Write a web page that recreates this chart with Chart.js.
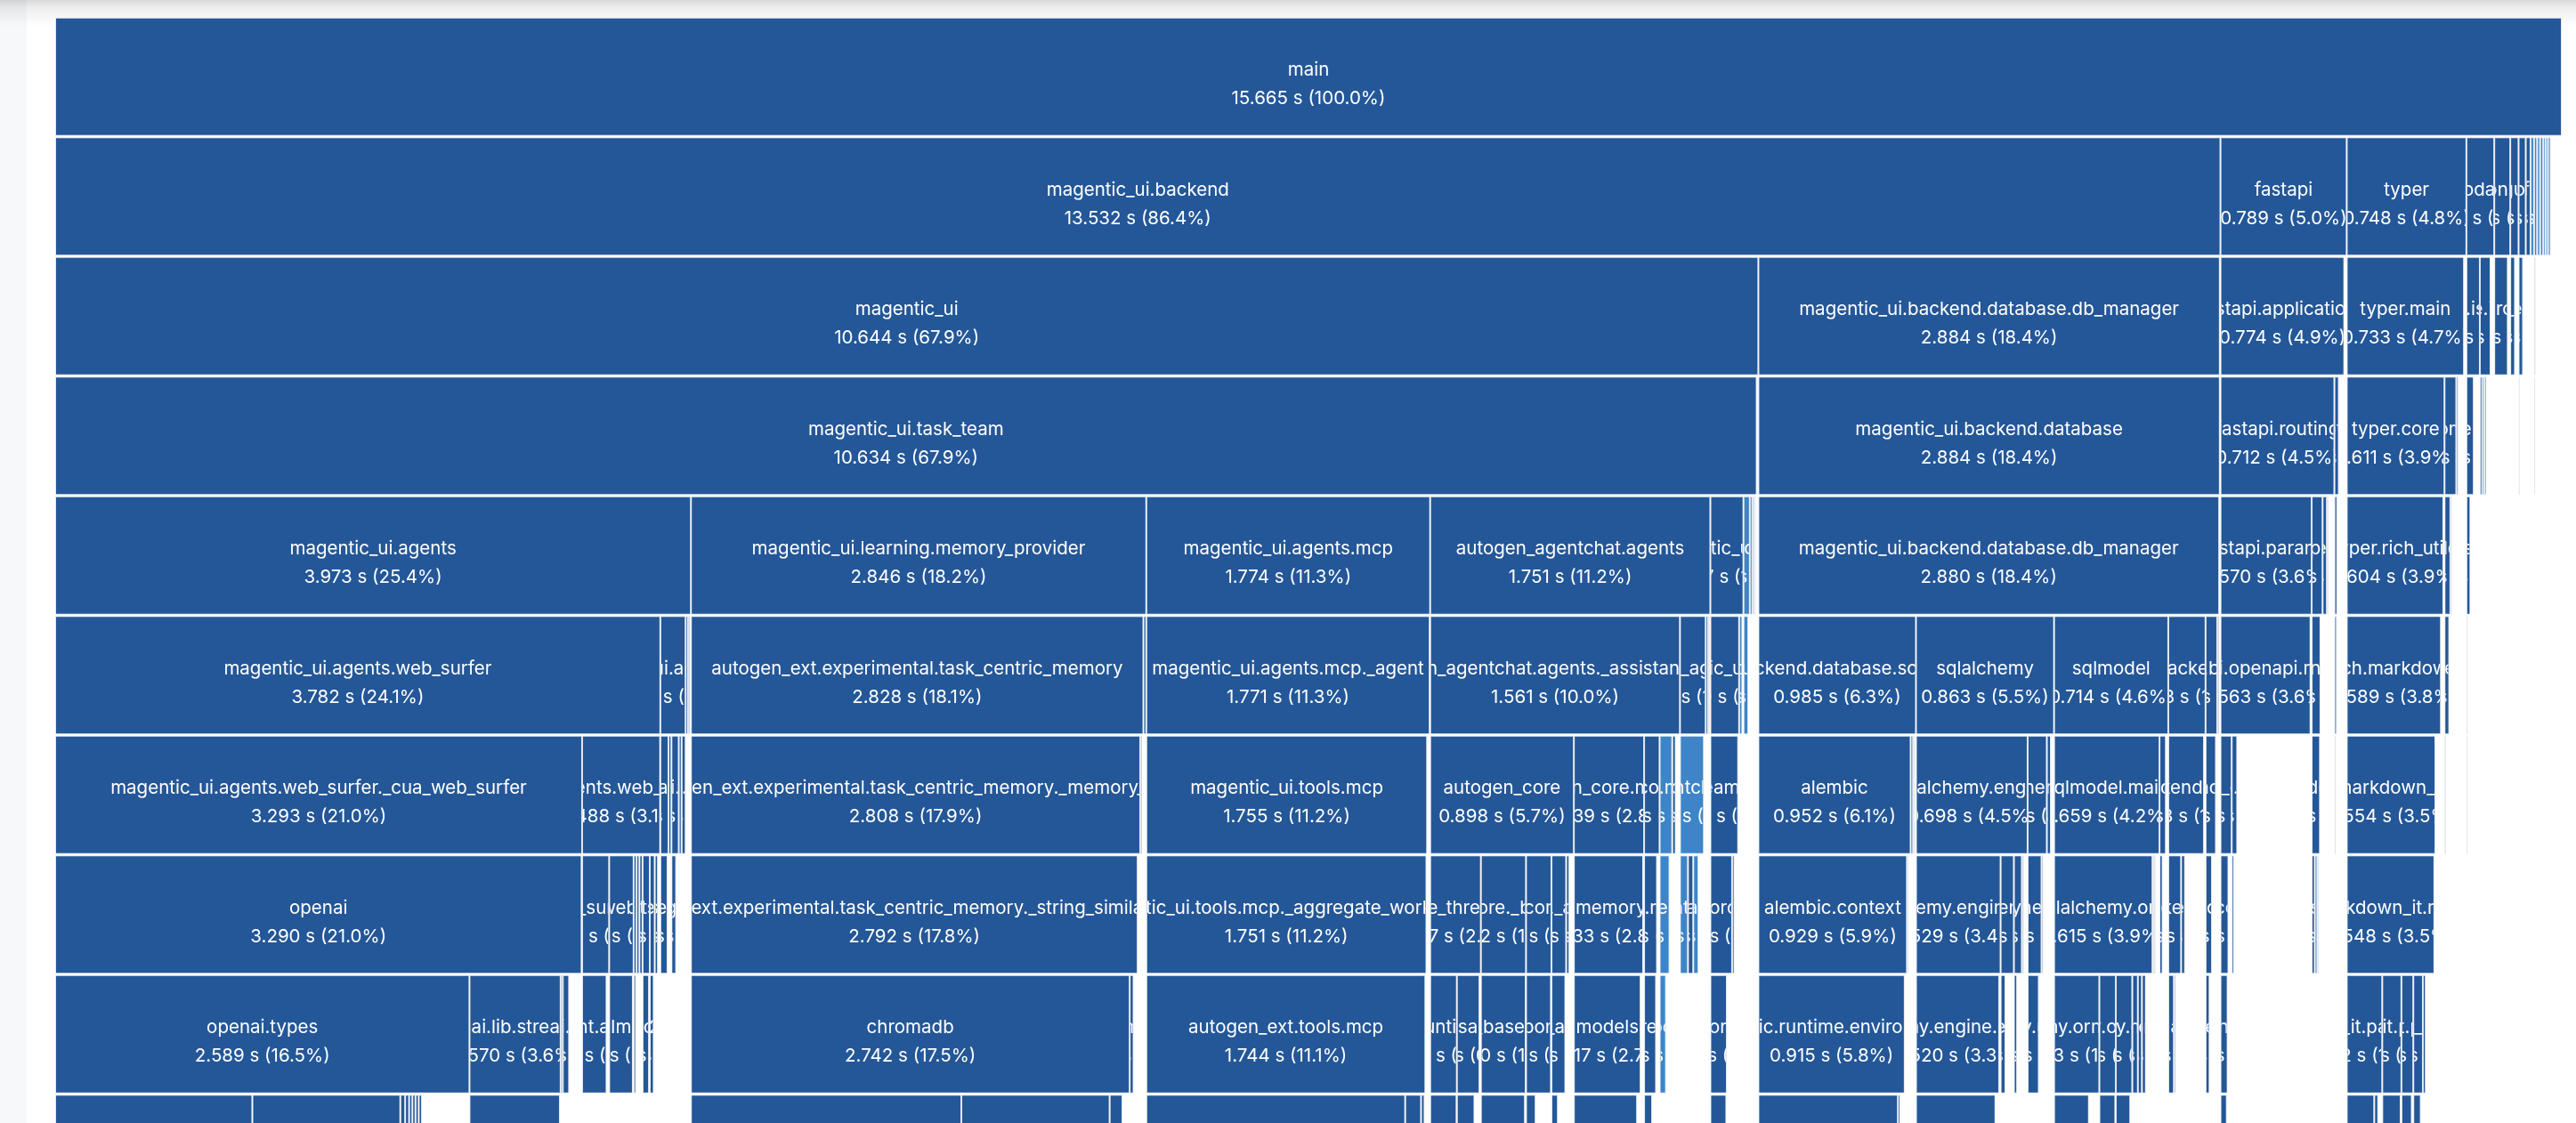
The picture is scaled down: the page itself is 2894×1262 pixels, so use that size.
<!DOCTYPE html>
<html><head><meta charset="utf-8">
<script src="https://cdn.jsdelivr.net/npm/chart.js@4.4.1/dist/chart.umd.min.js"></script>
<style>
html,body{margin:0;padding:0;width:2894px;height:1262px;overflow:hidden;background:#ffffff;}
#side{position:absolute;left:0;top:0;width:30px;height:1262px;background:#f7f8fa;}
#band{position:absolute;left:0;top:0;width:2894px;height:30px;background:linear-gradient(to bottom, rgba(0,0,0,0.15) 0px, rgba(0,0,0,0.065) 9px, rgba(0,0,0,0.035) 18px, rgba(0,0,0,0) 30px);}
#wrap{position:absolute;left:62px;top:19px;width:2816px;height:1345px;z-index:2;}
</style></head><body>
<div id="side"></div><div id="band"></div>
<div id="wrap"><canvas id="c" width="2816" height="1345"></canvas></div>
<script>
// ---------- data: one set of arrays per depth of the import tree ----------
const depth0Names = ['main'];
const depth0Times = [15.665];
const depth0Parents = [-1];

const depth1Names = ['magentic_ui.backend','fastapi','typer','isodate','jsonref','loguru','tiktoken','aiofiles','yaml','dotenv','json','uuid','socket','ssl','email'];
const depth1Times = [13.532,0.789,0.748,0.174,0.100,0.052,0.045,0.030,0.022,0.019,0.019,0.019,0.015,0.015,0.017];
const depth1Parents = [0,0,0,0,0,0,0,0,0,0,0,0,0,0,0];

const depth2Names = ['magentic_ui','magentic_ui.backend.database.db_manager','fastapi.applications','typer.main','isodate.isodates','isodate.isotime','jsonref.proxytypes','loguru._logger','tiktoken.core','dotenv.main'];
const depth2Times = [10.644,2.884,0.774,0.733,0.084,0.067,0.085,0.030,0.028,0.010];
const depth2Parents = [0,0,1,2,3,3,4,5,6,9];

const depth3Names = ['magentic_ui.task_team','magentic_ui.backend.database','fastapi.routing','fastapi.exception_handlers','typer.core','typer.completion','typer.params','isodate.isostrf','isodate.isotzinfo','isodate.tzinfo','isodate.duration','tiktoken.registry','dotenv.parser'];
const depth3Times = [10.634,2.884,0.712,0.028,0.611,0.074,0.013,0.046,0.015,0.013,0.013,0.008,0.006];
const depth3Parents = [0,1,2,2,3,3,3,4,5,5,5,8,9];

const depth4Names = ['magentic_ui.agents','magentic_ui.learning.memory_provider','magentic_ui.agents.mcp','autogen_agentchat.agents','magentic_ui.tools','magentic_ui.utils','magentic_ui.types','magentic_ui.magentic_one_helper','magentic_ui.approval_guard','magentic_ui.backend.database.db_manager','fastapi.params','fastapi.dependencies','fastapi.encoders','fastapi.datastructures','fastapi.exceptions','typer.rich_utils','typer._completion_shared','typer._types','isodate.isostrf.fmt'];
const depth4Times = [3.973,2.846,1.774,1.751,0.207,0.040,0.015,0.012,0.010,2.880,0.570,0.068,0.027,0.010,0.018,0.604,0.037,0.010,0.025];
const depth4Parents = [0,0,0,0,0,0,0,0,0,1,2,2,2,2,3,4,5,5,7];

const depth5Names = ['magentic_ui.agents.web_surfer','magentic_ui.agents._utils','magentic_ui.agents.users','magentic_ui.agents.file_surfer','autogen_ext.experimental.task_centric_memory','autogen_ext.experimental','magentic_ui.agents.mcp._agent','autogen_agentchat.agents._assistant_agent','autogen_agentchat','autogen_agentchat.state','autogen_agentchat.base','magentic_ui.teams','magentic_ui.tools.url_status','magentic_ui.utils.json','magentic_ui.backend.database.schema_manager','sqlalchemy','sqlmodel','magentic_ui.backend.datamodel','magentic_ui.backend.utils','magentic_ui.backend.database._util','fastapi.openapi.models','fastapi.dependencies.utils','fastapi.exceptions.http','rich.markdown','typer._completion_classes','isodate.isostrf.re'];
const depth5Times = [3.782,0.158,0.015,0.012,2.828,0.018,1.771,1.561,0.161,0.015,0.010,0.180,0.020,0.030,0.985,0.863,0.714,0.233,0.073,0.012,0.563,0.055,0.015,0.589,0.030,0.009];
const depth5Parents = [0,0,0,0,1,1,2,3,3,3,3,4,4,5,9,9,9,9,9,9,10,11,14,15,16,18];

const depth6Names = ['magentic_ui.agents.web_surfer._cua_web_surfer','magentic_ui.agents.web_surfer._prompts','magentic_ui.agents._coder','magentic_ui.agents._guard','magentic_ui.agents._file','magentic_ui.agents._orch','magentic_ui.agents._pdf','autogen_ext.experimental.task_centric_memory._memory_bank','autogen_ext.experimental.task_centric_memory.utils','magentic_ui.tools.mcp','autogen_core','autogen_core.memory','autogen_core.models','autogen_core.model_context','autogen_core.tools','autogen_agentchat.messages','magentic_ui.teams.orchestrator','alembic','magentic_ui.backend.database.migrations','magentic_ui.backend.database.config','sqlalchemy.engine','sqlalchemy.sql','sqlalchemy.types','sqlmodel.main','sqlmodel.sql','magentic_ui.backend.datamodel.types','magentic_ui.backend.utils.utils','fastapi._compat','fastapi.logger','fastapi.dependencies.models','fastapi.exceptions.base','markdown_it','typer._completion_classes.sh','isodate.isostrf.pat'];
const depth6Times = [3.293,0.488,0.051,0.018,0.046,0.018,0.025,2.808,0.012,1.755,0.898,0.439,0.097,0.079,0.022,0.150,0.174,0.952,0.015,0.010,0.698,0.120,0.025,0.659,0.040,0.223,0.065,0.070,0.035,0.052,0.011,0.554,0.011,0.008];
const depth6Parents = [0,0,1,1,1,1,1,4,4,6,7,7,7,7,7,8,11,14,14,14,15,15,15,16,16,17,18,20,20,21,22,23,24,25];

const depth7Names = ['openai','magentic_ui.agents.web_surfer.playwright_controller','magentic_ui.agents.web_surfer._set_of_mark','magentic_ui.agents.web_surfer._events','magentic_ui.agents.web_surfer._utils','magentic_ui.agents.web_surfer.fara','magentic_ui.agents.web_surfer._tool','magentic_ui.agents.web_surfer._prompts.cua','magentic_ui.agents.web_surfer._types','magentic_ui.agents._coder.exec','magentic_ui.agents._file.conv','autogen_ext.experimental.task_centric_memory._string_similarity_map','magentic_ui.tools.mcp._aggregate_workbench','autogen_core._single_threaded_agent_runtime','autogen_core._base_agent','autogen_core._component_config','autogen_core._agent_runtime','autogen_core.logging','autogen_core.memory._list_memory','autogen_core.models._types','autogen_core.model_context._buffered','autogen_agentchat.messages._types','autogen_agentchat.messages._utils','autogen_agentchat.messages._base','magentic_ui.teams.orchestrator._prompts','magentic_ui.teams.orchestrator._utils','alembic.context','alembic.op','sqlalchemy.engine.base','sqlalchemy.engine.events','sqlalchemy.engine.url','sqlalchemy.engine.row','sqlalchemy.util','sqlalchemy.sql.expression','sqlalchemy.orm','sqlmodel._compat','sqlmodel.default','sqlmodel.sql.sqltypes','magentic_ui.backend.datamodel.db','magentic_ui.backend.datamodel.eval','magentic_ui.backend.utils.files','fastapi._compat.v2','fastapi.logger.handlers','fastapi.security','fastapi.background','fastapi.requests','markdown_it.main'];
const depth7Times = [3.290,0.169,0.153,0.018,0.018,0.020,0.045,0.031,0.020,0.045,0.030,2.792,1.751,0.317,0.282,0.159,0.092,0.020,0.433,0.081,0.062,0.050,0.033,0.033,0.136,0.015,0.929,0.010,0.529,0.083,0.050,0.012,0.087,0.012,0.615,0.010,0.010,0.020,0.080,0.025,0.040,0.050,0.015,0.020,0.015,0.010,0.548];
const depth7Parents = [0,1,1,1,1,1,1,1,1,2,4,7,9,10,10,10,10,10,11,12,13,15,15,15,16,16,17,17,20,20,20,20,21,21,23,23,23,24,25,25,26,27,28,29,29,29,31];

const depth8Names = ['openai.types','openai.lib.streaming','openai.resources','openai._client','playwright.async_api','PIL.Image','tldextract','pydantic.json_schema','html2text','chromadb','numpy','autogen_ext.tools.mcp','autogen_core._runtime_impl_helpers','autogen_core._message_handler_context','autogen_core._base_agent_helpers','autogen_core._component_config_schema','autogen_core._agent_metadata','autogen_core.models._model_client','autogen_core.tools._base','autogen_core.model_context._chat','magentic_ui.teams.orchestrator._sentinel','alembic.runtime.environment','sqlalchemy.engine.interfaces','sqlalchemy.engine.create','sqlalchemy.engine.reflection','sqlalchemy.util.compat','sqlalchemy.orm.decl_api','sqlalchemy.orm.session','sqlalchemy.orm.query','sqlalchemy.orm.relationships','sqlalchemy.orm.mapper','sqlalchemy.orm.strategies','magentic_ui.datamodel.task','magentic_ui.datamodel.team','aiofiles.os','pydantic.v1','markdown_it.parser_block','markdown_it.parser_core','markdown_it.parser_inline','markdown_it.renderer','markdown_it.utils'];
const depth8Times = [2.589,0.570,0.013,0.040,0.153,0.148,0.015,0.040,0.025,2.742,0.025,1.744,0.167,0.141,0.280,0.156,0.087,0.417,0.075,0.040,0.103,0.915,0.520,0.030,0.020,0.070,0.283,0.103,0.103,0.035,0.025,0.025,0.035,0.012,0.025,0.045,0.222,0.120,0.074,0.060,0.018];
const depth8Parents = [0,0,0,0,1,2,3,6,7,11,11,12,13,13,14,15,16,18,19,20,24,26,28,29,30,32,34,34,34,34,34,34,38,38,40,41,46,46,46,46,46];

const depth9Names = ['openai.types.beta','openai.types.chat','openai.types.audio','openai.types.shared','openai.types.file_object','openai.types.model','openai.types.batch','openai.types.image','openai.lib.streaming.chat','chromadb.api','chromadb.config','chromadb.errors','mcp','autogen_ext.tools.mcp._config','autogen_ext.tools.mcp._session','autogen_core._queue','autogen_core._intervention','autogen_core._closure_agent','autogen_core._serialization','autogen_core._subscription','autogen_core.models._model_info','autogen_core.tools._function_tool','magentic_ui.teams.orchestrator._plan','alembic.runtime.migration','alembic.runtime.plugins','sqlalchemy.engine.default','sqlalchemy.orm.decl_base','sqlalchemy.orm.state','sqlalchemy.orm.context','pydantic.v1.fields','markdown_it.rules_block','markdown_it.ruler','markdown_it.rules_core','markdown_it.rules_inline','markdown_it.common'];
const depth9Times = [1.232,0.925,0.030,0.025,0.020,0.020,0.020,0.020,0.565,1.690,0.927,0.080,1.618,0.099,0.022,0.165,0.110,0.275,0.060,0.040,0.395,0.050,0.100,0.872,0.015,0.497,0.218,0.100,0.090,0.040,0.172,0.025,0.115,0.065,0.047];
const depth9Parents = [0,0,0,0,0,0,0,0,1,9,9,9,11,11,11,12,13,14,15,16,17,18,20,21,21,22,26,27,28,35,36,36,37,38,39];

// modules drawn in the lighter shade
const lightModules = ['yaml','dotenv','json','uuid','socket','ssl','email','dotenv.main','dotenv.parser','magentic_ui.utils','magentic_ui.tools.url_status','magentic_ui.utils.json','autogen_core.model_context','autogen_agentchat.messages','autogen_core.model_context._buffered','autogen_agentchat.messages._types','autogen_agentchat.messages._base','autogen_core.model_context._chat'];

// ---------- build icicle layout from the tree ----------
const allNames = [depth0Names,depth1Names,depth2Names,depth3Names,depth4Names,depth5Names,depth6Names,depth7Names,depth8Names,depth9Names];
const allTimes = [depth0Times,depth1Times,depth2Times,depth3Times,depth4Times,depth5Times,depth6Times,depth7Times,depth8Times,depth9Times];
const allParents = [depth0Parents,depth1Parents,depth2Parents,depth3Parents,depth4Parents,depth5Parents,depth6Parents,depth7Parents,depth8Parents,depth9Parents];
const rootTime = depth0Times[0];

const starts = [];
const points = [];
for (let d = 0; d < allNames.length; d++) {
  starts[d] = [];
  const cursor = {};
  for (let i = 0; i < allNames[d].length; i++) {
    const t = allTimes[d][i];
    let s;
    if (d === 0) { s = (cursor[-1] || 0); cursor[-1] = s + t; }
    else {
      const p = allParents[d][i];
      const c = cursor[p] || 0;
      s = starts[d-1][p] + c;
      cursor[p] = c + t;
    }
    starts[d][i] = s;
    points.push({x: [s, s + t], y: d, name: allNames[d][i], time: t});
  }
}

const DARK = '#245798';
const LIGHT = '#3d85c8';
const lightSet = new Set(lightModules);

const labelPlugin = {
  id: 'iciclelabels',
  afterDatasetsDraw(chart) {
    const ctx = chart.ctx;
    const meta = chart.getDatasetMeta(0);
    meta.data.forEach((el, i) => {
      const raw = points[i];
      const p = el.getProps(['x','y','base','height'], true);
      const left = Math.min(p.x, p.base) + 1;
      const right = Math.max(p.x, p.base) - 1;
      if (right - left < 1.5) return;
      ctx.save();
      ctx.beginPath();
      ctx.rect(left, p.y - p.height / 2, right - left, p.height);
      ctx.clip();
      ctx.fillStyle = '#ffffff';
      ctx.font = '20.5px Inter, "Noto Sans", sans-serif';
      ctx.textAlign = 'center';
      ctx.textBaseline = 'middle';
      const cx = (left + right) / 2;
      ctx.fillText(raw.name, cx, p.y - 7);
      ctx.fillText(raw.time.toFixed(3) + ' s (' + (raw.time / rootTime * 100).toFixed(1) + '%)', cx, p.y + 25);
      ctx.restore();
    });
  }
};

new Chart(document.getElementById('c'), {
  type: 'bar',
  data: {
    datasets: [{
      data: points,
      backgroundColor: c => (c.raw && lightSet.has(c.raw.name)) ? LIGHT : DARK,
      borderColor: '#e2e8f0',
      borderWidth: 1,
      borderSkipped: false,
      barThickness: 133,
      inflateAmount: 0,
      grouped: false
    }]
  },
  options: {
    indexAxis: 'y',
    responsive: false,
    animation: false,
    events: [],
    layout: {padding: 0},
    plugins: {legend: {display: false}, tooltip: {enabled: false}, title: {display: false}},
    scales: {
      x: {type: 'linear', min: 0, max: rootTime, display: false, offset: false},
      y: {type: 'linear', min: -0.5, max: 9.5, reverse: true, display: false, offset: false, grid: {offset: false}}
    }
  },
  plugins: [labelPlugin]
});
</script>
</body></html>
